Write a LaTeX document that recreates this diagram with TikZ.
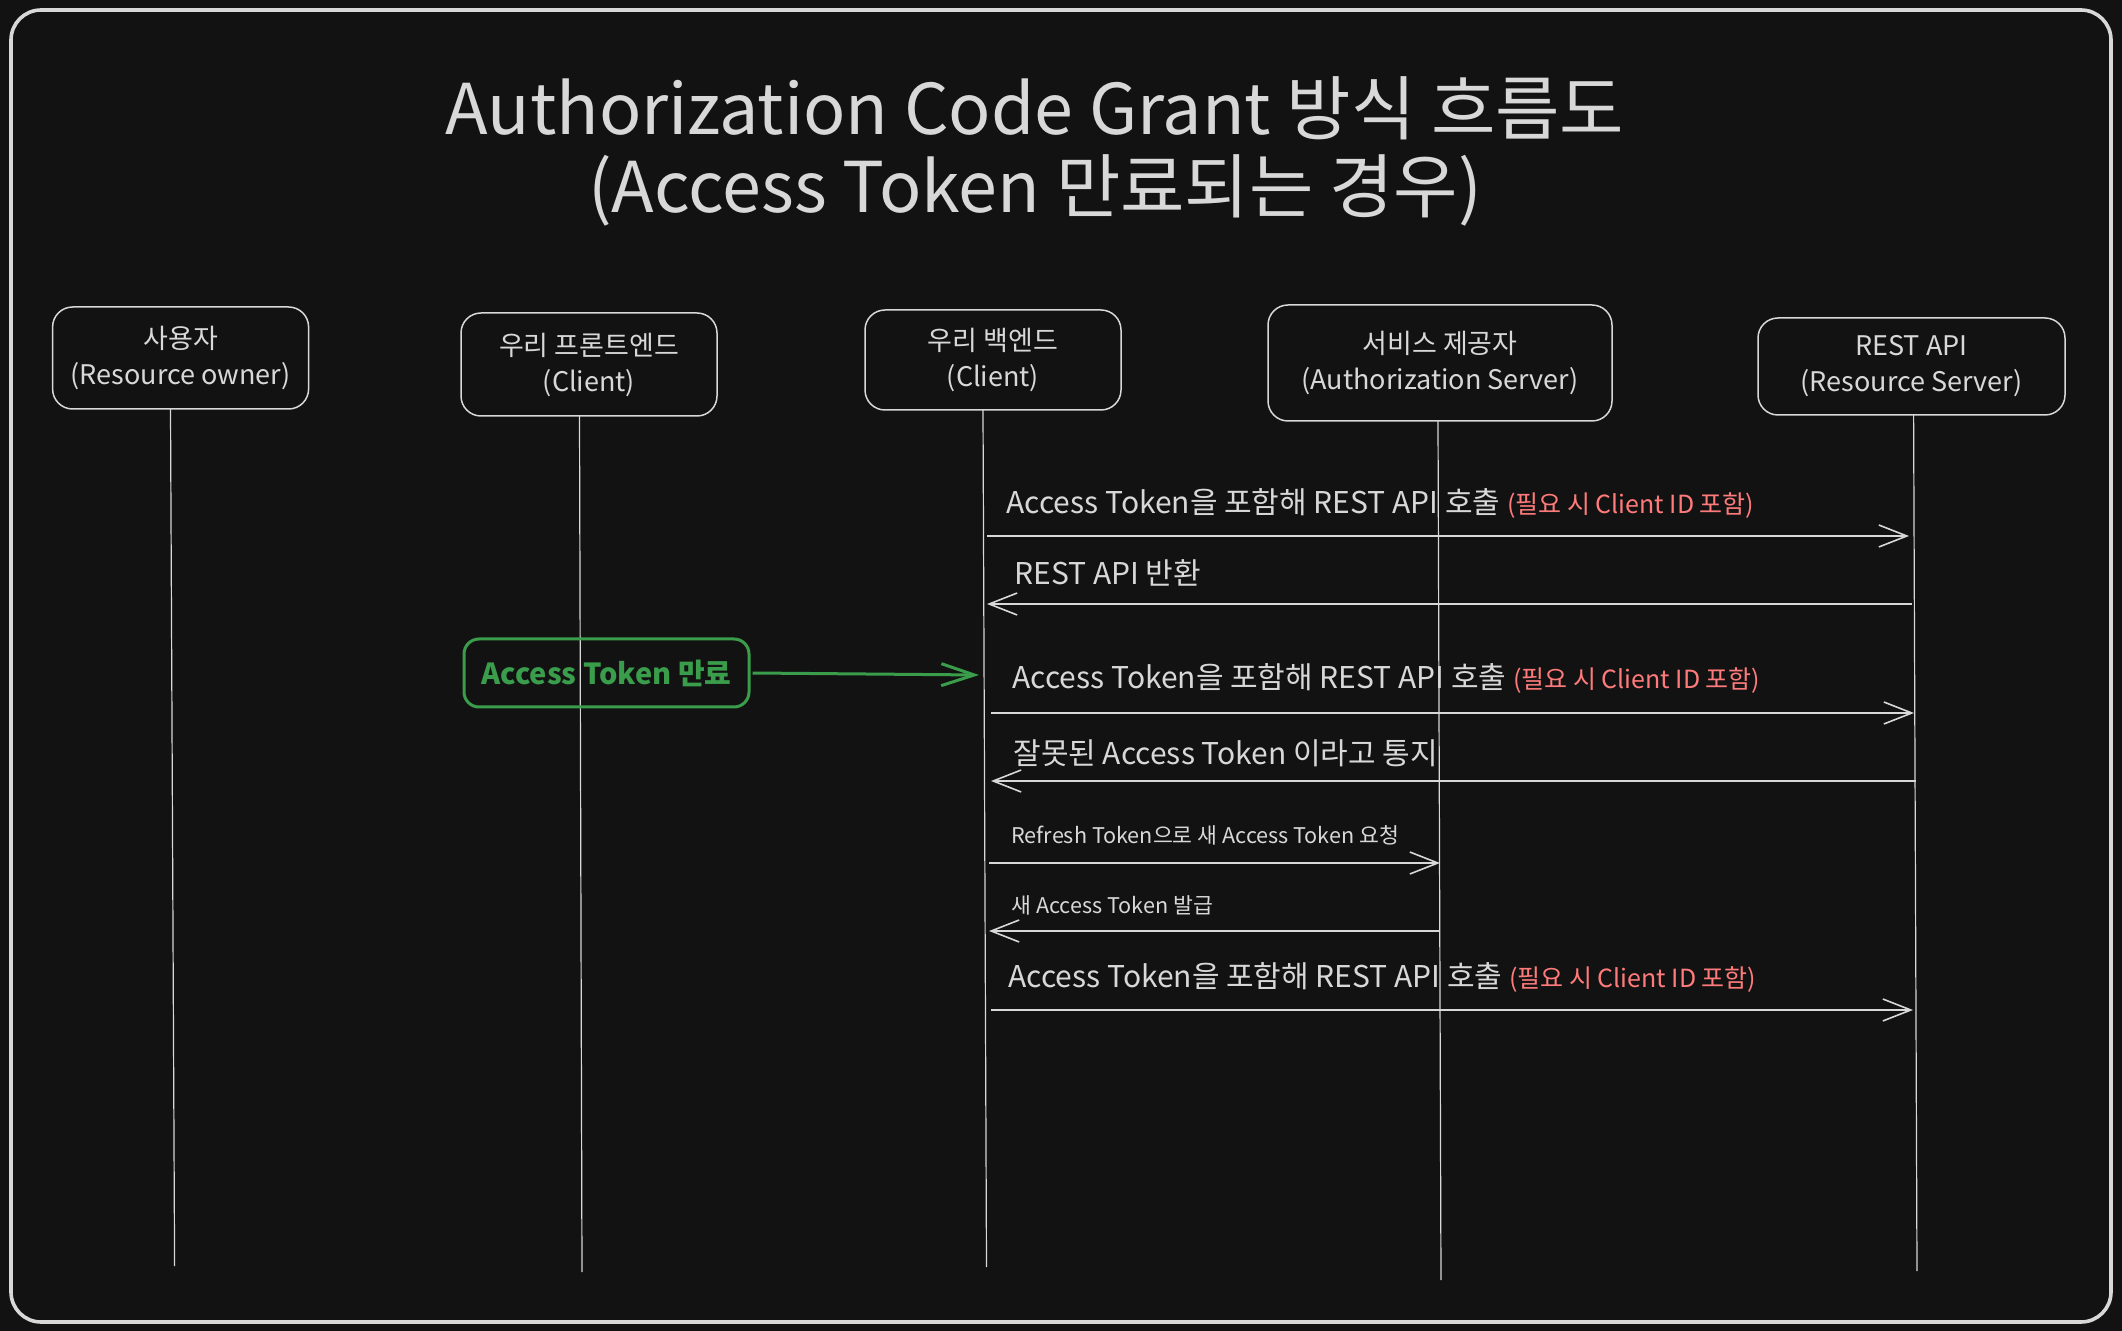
\documentclass[tikz,border=0pt]{standalone}
\usepackage{fontspec}
\setmainfont{Noto Sans CJK KR}
\usetikzlibrary{arrows.meta}
\definecolor{bg}{HTML}{121212}
\definecolor{fg}{HTML}{D8D8D8}
\definecolor{redt}{HTML}{FF7B7B}
\definecolor{greent}{HTML}{3A9D4B}
\begin{document}
\begin{tikzpicture}[x=0.5pt,y=-0.5pt,
  actor/.style={draw=fg, line width=0.75pt, rounded corners=10pt, text=fg, align=center,
    font=\fontsize{13.5}{18}\selectfont, inner sep=0pt},
  life/.style={draw=fg, line width=0.6pt},
  msg/.style={draw=fg, line width=0.8pt, -{Straight Barb[length=14pt,width=11pt]}},
  lbl/.style={anchor=west, inner sep=0pt, text=fg, font=\fontsize{15}{18}\selectfont},
  lblsmall/.style={anchor=west, inner sep=0pt, text=fg, font=\fontsize{10.8}{13}\selectfont},
  titletext/.style={text=fg, inner sep=0pt, font=\fontsize{35}{40}\selectfont},
  note/.style={draw=greent, line width=1.5pt, rounded corners=7.5pt, text=greent,
    font=\fontsize{14.5}{17}\selectfont\bfseries, minimum width=142.5pt, minimum height=34pt, inner sep=0pt},
  notearrow/.style={draw=greent, line width=1.5pt, -{Straight Barb[length=16.5pt,width=11pt]}}
]
\fill[bg] (0,0) rectangle (2122,1331);
\useasboundingbox (0,0) rectangle (2122,1331);
\draw[fg, line width=1.8pt, rounded corners=15pt] (11,10) rectangle (2111,1322);

% title
\node[titletext] (t1) at (1035,108) {Authorization Code Grant 방식 흐름도};
\node[titletext] (t2) at (1035,190) {(Access Token 만료되는 경우)};

% actors
\node[actor, minimum width=128pt, minimum height=51pt] (u) at (180.6,358) {사용자\\(Resource owner)};
\node[actor, minimum width=128pt, minimum height=51.5pt] (f) at (589,364.5) {우리 프론트엔드\\(Client)};
\node[actor, minimum width=128pt, minimum height=50pt] (b) at (993,360) {우리 백엔드\\(Client)};
\node[actor, minimum width=172pt, minimum height=58pt] (a) at (1440,363) {서비스 제공자\\(Authorization Server)};
\node[actor, minimum width=153.5pt, minimum height=48.5pt] (r) at (1911.5,366.5) {REST API\\(Resource Server)};

% lifelines
\coordinate (l1t) at (170.5,409);  \coordinate (l1b) at (174.6,1266);
\coordinate (l2t) at (579.5,416);  \coordinate (l2b) at (582,1272);
\coordinate (l3t) at (983,410);    \coordinate (l3b) at (986.5,1267);
\coordinate (l4t) at (1438,421);   \coordinate (l4b) at (1441,1280);
\coordinate (l5t) at (1913.6,415); \coordinate (l5b) at (1917,1271);
\draw[life] (l1t) -- (l1b);
\draw[life] (l2t) -- (l2b);
\draw[life] (l3t) -- (l3b);
\draw[life] (l4t) -- (l4b);
\draw[life] (l5t) -- (l5b);

% message endpoints
\coordinate (m1s) at (987,536);  \coordinate (m1e) at (1909,536);
\coordinate (m2s) at (1912,604); \coordinate (m2e) at (987,604);
\coordinate (m3s) at (991,713);  \coordinate (m3e) at (1914,713);
\coordinate (m4s) at (1916,781); \coordinate (m4e) at (991,781);
\coordinate (m5s) at (989,863);  \coordinate (m5e) at (1440,863);
\coordinate (m6s) at (1440,931); \coordinate (m6e) at (989,931);
\coordinate (m7s) at (991,1010); \coordinate (m7e) at (1913,1010);
\draw[msg] (m1s) -- (m1e);
\draw[msg] (m2s) -- (m2e);
\draw[msg] (m3s) -- (m3e);
\draw[msg] (m4s) -- (m4e);
\draw[msg] (m5s) -- (m5e);
\draw[msg] (m6s) -- (m6e);
\draw[msg] (m7s) -- (m7e);

% labels
\node[lbl] (k1) at (1006,503) {Access Token을 포함해 REST API 호출 {\color{redt}\fontsize{12.5}{14}\selectfont (필요 시 Client ID 포함)}};
\node[lbl] (k2) at (1014,573) {REST API 반환};
\node[lbl] (k3) at (1012,678) {Access Token을 포함해 REST API 호출 {\color{redt}\fontsize{12.5}{14}\selectfont (필요 시 Client ID 포함)}};
\node[lbl] (k4) at (1013,753) {잘못된 Access Token 이라고 통지};
\node[lblsmall] (k5) at (1011,835) {Refresh Token으로 새 Access Token 요청};
\node[lblsmall] (k6) at (1011,905) {새 Access Token 발급};
\node[lbl] (k7) at (1008,977) {Access Token을 포함해 REST API 호출 {\color{redt}\fontsize{12.5}{14}\selectfont (필요 시 Client ID 포함)}};

% expiry note
\node[note] (exp) at (606.5,673) {Access Token 만료};
\coordinate (expend) at (979,675);
\draw[notearrow] (exp.east) ++(2,0) -- (expend);
\end{tikzpicture}
\end{document}
